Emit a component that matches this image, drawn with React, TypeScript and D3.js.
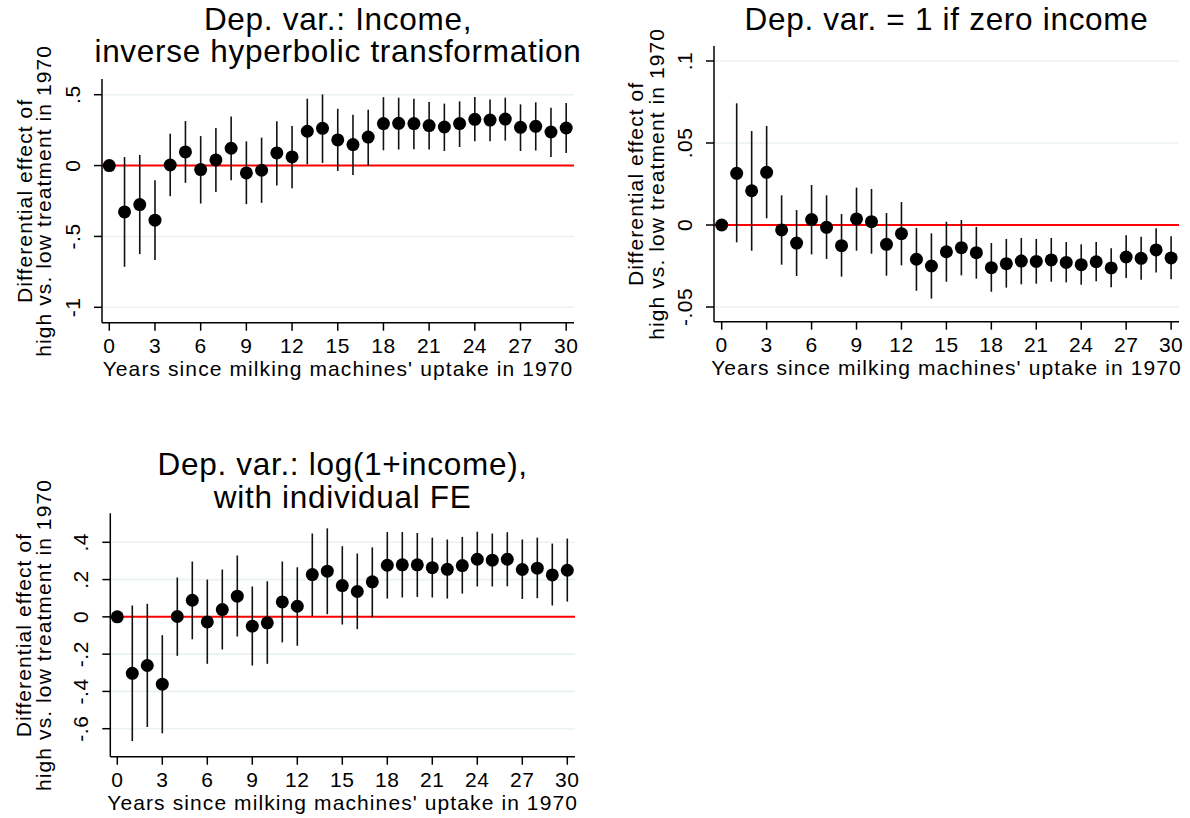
import React from "react";
import * as d3 from "d3";

const years = [0, 1, 2, 3, 4, 5, 6, 7, 8, 9, 10, 11, 12, 13, 14, 15, 16, 17, 18, 19, 20, 21, 22, 23, 24, 25, 26, 27, 28, 29, 30];
const xTicks = [0, 3, 6, 9, 12, 15, 18, 21, 24, 27, 30];

// Panel 1: income, inverse hyperbolic transformation
const coef1 = [0, -0.327, -0.275, -0.385, 0.004, 0.096, -0.028, 0.04, 0.122, -0.052, -0.033, 0.089, 0.061, 0.242, 0.263, 0.181, 0.148, 0.201, 0.296, 0.298, 0.296, 0.282, 0.272, 0.296, 0.326, 0.321, 0.328, 0.27, 0.277, 0.237, 0.265];
const hi1 = [0, 0.06, 0.075, -0.104, 0.225, 0.314, 0.208, 0.265, 0.347, 0.171, 0.197, 0.312, 0.279, 0.472, 0.502, 0.401, 0.359, 0.394, 0.483, 0.479, 0.472, 0.448, 0.437, 0.453, 0.483, 0.467, 0.479, 0.432, 0.446, 0.408, 0.441];
const lo1 = [0, -0.714, -0.625, -0.667, -0.216, -0.122, -0.268, -0.186, -0.104, -0.272, -0.263, -0.141, -0.16, 0.009, 0.018, -0.038, -0.066, 0.0, 0.108, 0.113, 0.115, 0.113, 0.103, 0.131, 0.171, 0.171, 0.176, 0.103, 0.106, 0.061, 0.089];
const yTicks1 = [-1, -0.5, 0, 0.5];
const yLabels1 = ["-1", "-.5", "0", ".5"];

// Panel 2: = 1 if zero income
const coef2 = [0, 0.0315, 0.0209, 0.0321, -0.003, -0.011, 0.0033, -0.0014, -0.0126, 0.0037, 0.002, -0.0118, -0.0053, -0.0209, -0.025, -0.0163, -0.0138, -0.0169, -0.026, -0.0236, -0.022, -0.0222, -0.0213, -0.0228, -0.0242, -0.0224, -0.0262, -0.0195, -0.0203, -0.0152, -0.0201];
const hi2 = [0, 0.0742, 0.0573, 0.0604, 0.0181, 0.0091, 0.0244, 0.0181, 0.0067, 0.0228, 0.022, 0.0073, 0.014, -0.0018, -0.0051, 0.002, 0.003, -0.0012, -0.011, -0.0085, -0.0079, -0.0085, -0.0079, -0.0104, -0.0118, -0.0104, -0.0142, -0.0063, -0.0071, -0.002, -0.0069];
const lo2 = [0, -0.0106, -0.0157, 0.0041, -0.0242, -0.0311, -0.0179, -0.0207, -0.0315, -0.0157, -0.0175, -0.0309, -0.0246, -0.0401, -0.0449, -0.0346, -0.0307, -0.0327, -0.0407, -0.0382, -0.0362, -0.0358, -0.0346, -0.035, -0.0364, -0.0343, -0.038, -0.0323, -0.0334, -0.0289, -0.0331];
const yTicks2 = [-0.05, 0, 0.05, 0.1];
const yLabels2 = ["-.05", "0", ".05", ".1"];

// Panel 3: log(1+income), individual FE
const coef3 = [0, -0.303, -0.261, -0.361, 0.002, 0.089, -0.027, 0.039, 0.111, -0.05, -0.032, 0.08, 0.057, 0.227, 0.245, 0.168, 0.136, 0.188, 0.277, 0.279, 0.279, 0.264, 0.255, 0.275, 0.309, 0.304, 0.309, 0.254, 0.261, 0.225, 0.25];
const hi3 = [0, 0.061, 0.07, -0.098, 0.211, 0.297, 0.2, 0.254, 0.329, 0.163, 0.191, 0.297, 0.266, 0.447, 0.475, 0.379, 0.34, 0.373, 0.455, 0.455, 0.45, 0.425, 0.415, 0.429, 0.457, 0.447, 0.454, 0.415, 0.425, 0.393, 0.42];
const lo3 = [0, -0.666, -0.591, -0.625, -0.209, -0.12, -0.252, -0.175, -0.105, -0.261, -0.252, -0.137, -0.155, 0.005, 0.014, -0.041, -0.066, -0.002, 0.098, 0.104, 0.107, 0.104, 0.098, 0.125, 0.163, 0.163, 0.164, 0.096, 0.1, 0.061, 0.082];
const yTicks3 = [-0.6, -0.4, -0.2, 0, 0.2, 0.4];
const yLabels3 = ["-.6", "-.4", "-.2", "0", ".2", ".4"];

const yTitle1 = "Differential effect of";
const yTitle2 = "high vs. low treatment in 1970";
const xTitle = "Years since milking machines' uptake in 1970";

const FONT = "'Liberation Sans', Arial, Helvetica, sans-serif";

type PanelProps = {
  coef: number[];
  lo: number[];
  hi: number[];
  yTicks: number[];
  yLabels: string[];
  title: string[];
  titleY: number[];
  axisLeft: number;
  axisRight: number;
  axisTop: number;
  axisBottom: number;
  xRange: [number, number];
  yDomain: [number, number];
  yRange: [number, number];
  yTitleX: [number, number];
};

function Panel(p: PanelProps) {
  const x = d3.scaleLinear().domain([0, 30]).range(p.xRange);
  const y = d3.scaleLinear().domain(p.yDomain).range(p.yRange);
  const cx = (p.axisLeft + p.axisRight) / 2;
  const cy = (p.axisTop + p.axisBottom) / 2;
  const txtStyle = { fontFamily: FONT, fill: "#000" } as const;
  return (
    <g>
      {p.title.map((t, i) => (
        <text key={"t" + i} x={cx} y={p.titleY[i]} textAnchor="middle" fontSize={31.5} letterSpacing={0.7} style={txtStyle}>
          {t}
        </text>
      ))}
      {/* grid lines */}
      {p.yTicks.map((t, i) => (
        <line key={"g" + i} x1={p.axisLeft} x2={p.axisRight} y1={y(t)} y2={y(t)} stroke="#eaf2f3" strokeWidth={1.6} />
      ))}
      {/* zero line */}
      <line x1={p.axisLeft} x2={p.axisRight} y1={y(0)} y2={y(0)} stroke="#ff0000" strokeWidth={2} />
      {/* error bars */}
      {years.map((yr, i) => (
        <line key={"e" + i} x1={x(yr)} x2={x(yr)} y1={y(p.lo[i])} y2={y(p.hi[i])} stroke="#111" strokeWidth={1.6} />
      ))}
      {/* points */}
      {years.map((yr, i) => (
        <circle key={"c" + i} cx={x(yr)} cy={y(p.coef[i])} r={6.5} fill="#000" />
      ))}
      {/* axes */}
      <line x1={p.axisLeft} x2={p.axisLeft} y1={p.axisTop} y2={p.axisBottom} stroke="#000" strokeWidth={1.5} />
      <line x1={p.axisLeft} x2={p.axisRight} y1={p.axisBottom} y2={p.axisBottom} stroke="#000" strokeWidth={1.5} />
      {p.yTicks.map((t, i) => (
        <g key={"yt" + i}>
          <line x1={p.axisLeft - 8} x2={p.axisLeft} y1={y(t)} y2={y(t)} stroke="#000" strokeWidth={1.5} />
          <text
            transform={`translate(${p.axisLeft - 22},${y(t)}) rotate(-90)`}
            textAnchor="middle"
            fontSize={21}
            letterSpacing={0.5}
            style={txtStyle}
          >
            {p.yLabels[i]}
          </text>
        </g>
      ))}
      {xTicks.map((t, i) => (
        <g key={"xt" + i}>
          <line x1={x(t)} x2={x(t)} y1={p.axisBottom} y2={p.axisBottom + 8} stroke="#000" strokeWidth={1.5} />
          <text x={x(t)} y={p.axisBottom + 30.5} textAnchor="middle" fontSize={21} letterSpacing={0.5} style={txtStyle}>
            {String(t)}
          </text>
        </g>
      ))}
      <text x={cx} y={p.axisBottom + 53.5} textAnchor="middle" fontSize={21} letterSpacing={1.1} style={txtStyle}>
        {xTitle}
      </text>
      <text transform={`translate(${p.yTitleX[0]},${cy}) rotate(-90)`} textAnchor="middle" fontSize={21} letterSpacing={1.1} style={txtStyle}>
        {yTitle1}
      </text>
      <text transform={`translate(${p.yTitleX[1]},${cy}) rotate(-90)`} textAnchor="middle" fontSize={21} letterSpacing={1.1} style={txtStyle}>
        {yTitle2}
      </text>
    </g>
  );
}

export default function App() {
  return (
    <svg width={1190} height={818} style={{ position: "absolute", left: 0, top: 0, background: "#fff" }}>
      <rect x={0} y={0} width={1190} height={818} fill="#fff" />
      <Panel
        coef={coef1}
        lo={lo1}
        hi={hi1}
        yTicks={yTicks1}
        yLabels={yLabels1}
        title={["Dep. var.: Income,", "inverse hyperbolic transformation"]}
        titleY={[29.5, 62]}
        axisLeft={102}
        axisRight={574}
        axisTop={79}
        axisBottom={322.7}
        xRange={[109.3, 566.2]}
        yDomain={[-1, 0.5]}
        yRange={[307.3, 94.7]}
        yTitleX={[31.5, 50.5]}
      />
      <Panel
        coef={coef2}
        lo={lo2}
        hi={hi2}
        yTicks={yTicks2}
        yLabels={yLabels2}
        title={["Dep. var. = 1 if zero income"]}
        titleY={[29.5]}
        axisLeft={714}
        axisRight={1179}
        axisTop={46}
        axisBottom={321.7}
        xRange={[721.7, 1171.1]}
        yDomain={[-0.05, 0.1]}
        yRange={[307, 61]}
        yTitleX={[643, 664]}
      />
      <Panel
        coef={coef3}
        lo={lo3}
        hi={hi3}
        yTicks={yTicks3}
        yLabels={yLabels3}
        title={["Dep. var.: log(1+income),", "with individual FE"]}
        titleY={[475, 508]}
        axisLeft={110.3}
        axisRight={575}
        axisTop={513.3}
        axisBottom={756.7}
        xRange={[117.3, 567.3]}
        yDomain={[-0.6, 0.4]}
        yRange={[728.7, 542.3]}
        yTitleX={[31, 51]}
      />
    </svg>
  );
}
